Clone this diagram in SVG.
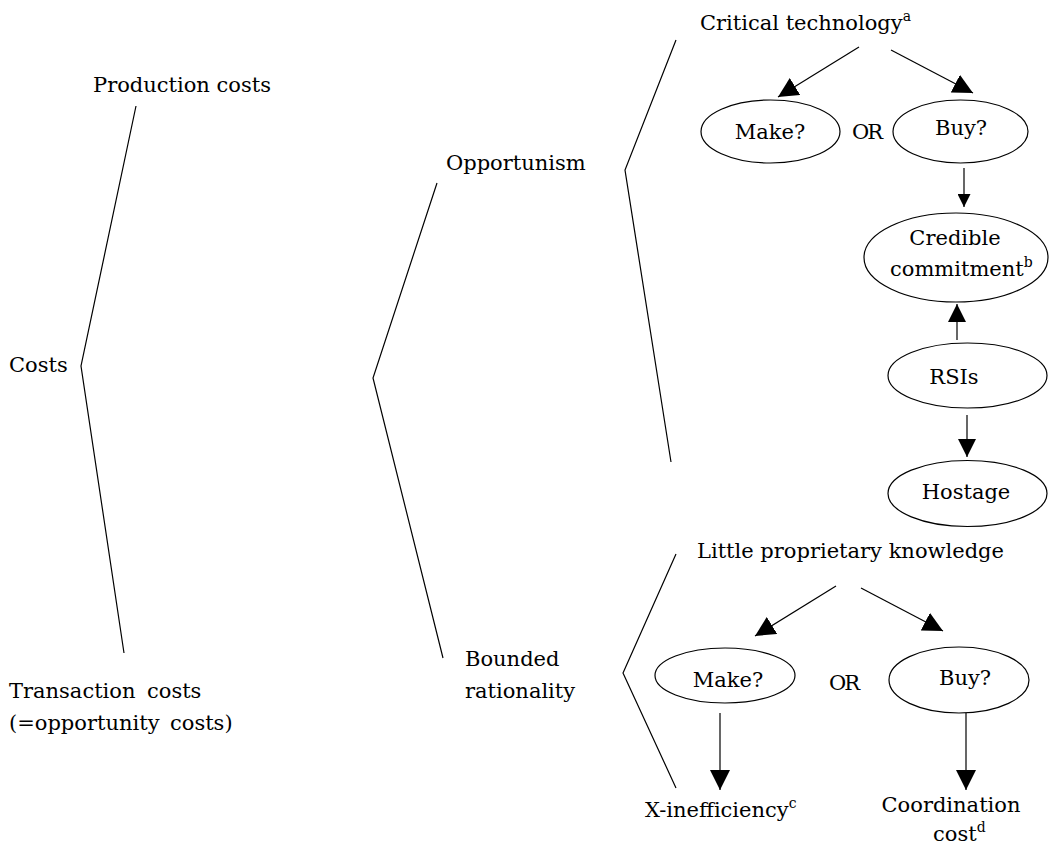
<svg xmlns="http://www.w3.org/2000/svg" width="1050" height="848" viewBox="0 0 1050 848">
  <style>
    text { font-family: 'DejaVu Serif', 'Liberation Serif', serif; font-size: 21px; fill: #000; }
    .mid { text-anchor: middle; }
    .sup { font-size: 14px; }
    .br { fill: none; stroke: #000; stroke-width: 1.2; }
    .node { fill: #fff; stroke: #000; stroke-width: 1.2; }
    .ar { fill: none; stroke: #000; stroke-width: 1.2; }
    .or { letter-spacing: -2px; }
  </style>
  <defs>
    <marker id="ah20" viewBox="0 0 10 10" refX="10" refY="5" markerUnits="userSpaceOnUse" markerWidth="20" markerHeight="20" orient="auto">
      <path d="M0,0 L10,5 L0,10 Z" fill="#000"/>
    </marker>
    <marker id="ah18" viewBox="0 0 10 10" refX="10" refY="5" markerUnits="userSpaceOnUse" markerWidth="18" markerHeight="18" orient="auto">
      <path d="M0,0 L10,5 L0,10 Z" fill="#000"/>
    </marker>
    <marker id="ah14" viewBox="0 0 10 10" refX="10" refY="5" markerUnits="userSpaceOnUse" markerWidth="14" markerHeight="13" orient="auto">
      <path d="M0,0 L10,5 L0,10 Z" fill="#000"/>
    </marker>
  </defs>

  <g id="connectors">
    <polyline class="br" points="136,106 81,366 124,653"/>
    <polyline class="br" points="437,183 373,378 443,658"/>
    <polyline class="br" points="676,40 625,170 671,462"/>
    <polyline class="br" points="676,554 623,673 676,788"/>
    <line class="ar" x1="859" y1="47" x2="778" y2="97" marker-end="url(#ah20)"/>
    <line class="ar" x1="891" y1="50" x2="973" y2="93" marker-end="url(#ah20)"/>
    <line class="ar" x1="964" y1="168" x2="964" y2="207" marker-end="url(#ah14)"/>
    <line class="ar" x1="957" y1="340" x2="957" y2="304" marker-end="url(#ah18)"/>
    <line class="ar" x1="967" y1="415" x2="967" y2="457" marker-end="url(#ah18)"/>
    <line class="ar" x1="836" y1="586" x2="755" y2="636" marker-end="url(#ah20)"/>
    <line class="ar" x1="861" y1="588" x2="943" y2="631" marker-end="url(#ah20)"/>
    <line class="ar" x1="720" y1="713" x2="720" y2="790" marker-end="url(#ah20)"/>
    <line class="ar" x1="966" y1="713" x2="966" y2="790" marker-end="url(#ah20)"/>
  </g>

  <g id="production-costs"><text x="93" y="92">Production costs</text></g>
  <g id="costs"><text x="9" y="372">Costs</text></g>
  <g id="transaction-costs">
    <text x="9" y="698">Transaction<tspan x="147">costs</tspan></text>
    <text x="9" y="730">(=opportunity<tspan x="170">costs)</tspan></text>
  </g>
  <g id="opportunism"><text x="446" y="170">Opportunism</text></g>
  <g id="bounded-rationality">
    <text x="465" y="666">Bounded</text>
    <text x="465" y="698">rationality</text>
  </g>

  <g id="critical-technology"><text x="700" y="30">Critical technology<tspan class="sup" dy="-9">a</tspan></text></g>
  <g id="make-upper">
    <ellipse class="node" cx="770.5" cy="131.5" rx="69.5" ry="31.5"/>
    <text class="mid" x="770" y="139">Make?</text>
  </g>
  <g id="or-upper"><text class="or" x="852" y="139">OR</text></g>
  <g id="buy-upper">
    <ellipse class="node" cx="960.5" cy="131.5" rx="67.5" ry="31.5"/>
    <text class="mid" x="961" y="135">Buy?</text>
  </g>
  <g id="credible-commitment">
    <ellipse class="node" cx="956" cy="257.5" rx="92" ry="44.5"/>
    <text class="mid" x="955" y="245">Credible</text>
    <text x="890" y="276">commitment<tspan class="sup" dy="-9">b</tspan></text>
  </g>
  <g id="rsis">
    <ellipse class="node" cx="967.5" cy="375.5" rx="79.5" ry="32.5"/>
    <text class="mid" x="954" y="384">RSIs</text>
  </g>
  <g id="hostage">
    <ellipse class="node" cx="967.5" cy="493.5" rx="79.5" ry="33"/>
    <text class="mid" x="966" y="499">Hostage</text>
  </g>

  <g id="little-proprietary-knowledge"><text x="697" y="558">Little proprietary knowledge</text></g>
  <g id="make-lower">
    <ellipse class="node" cx="725" cy="675.5" rx="70" ry="27.5"/>
    <text class="mid" x="728" y="687">Make?</text>
  </g>
  <g id="or-lower"><text class="or" x="829" y="690">OR</text></g>
  <g id="buy-lower">
    <ellipse class="node" cx="959" cy="680" rx="70" ry="33"/>
    <text class="mid" x="965" y="685">Buy?</text>
  </g>
  <g id="x-inefficiency"><text x="645" y="817">X-inefficiency<tspan class="sup" dy="-9">c</tspan></text></g>
  <g id="coordination-cost">
    <text class="mid" x="951" y="812">Coordination</text>
    <text x="933" y="841">cost<tspan class="sup" dy="-9">d</tspan></text>
  </g>
</svg>
